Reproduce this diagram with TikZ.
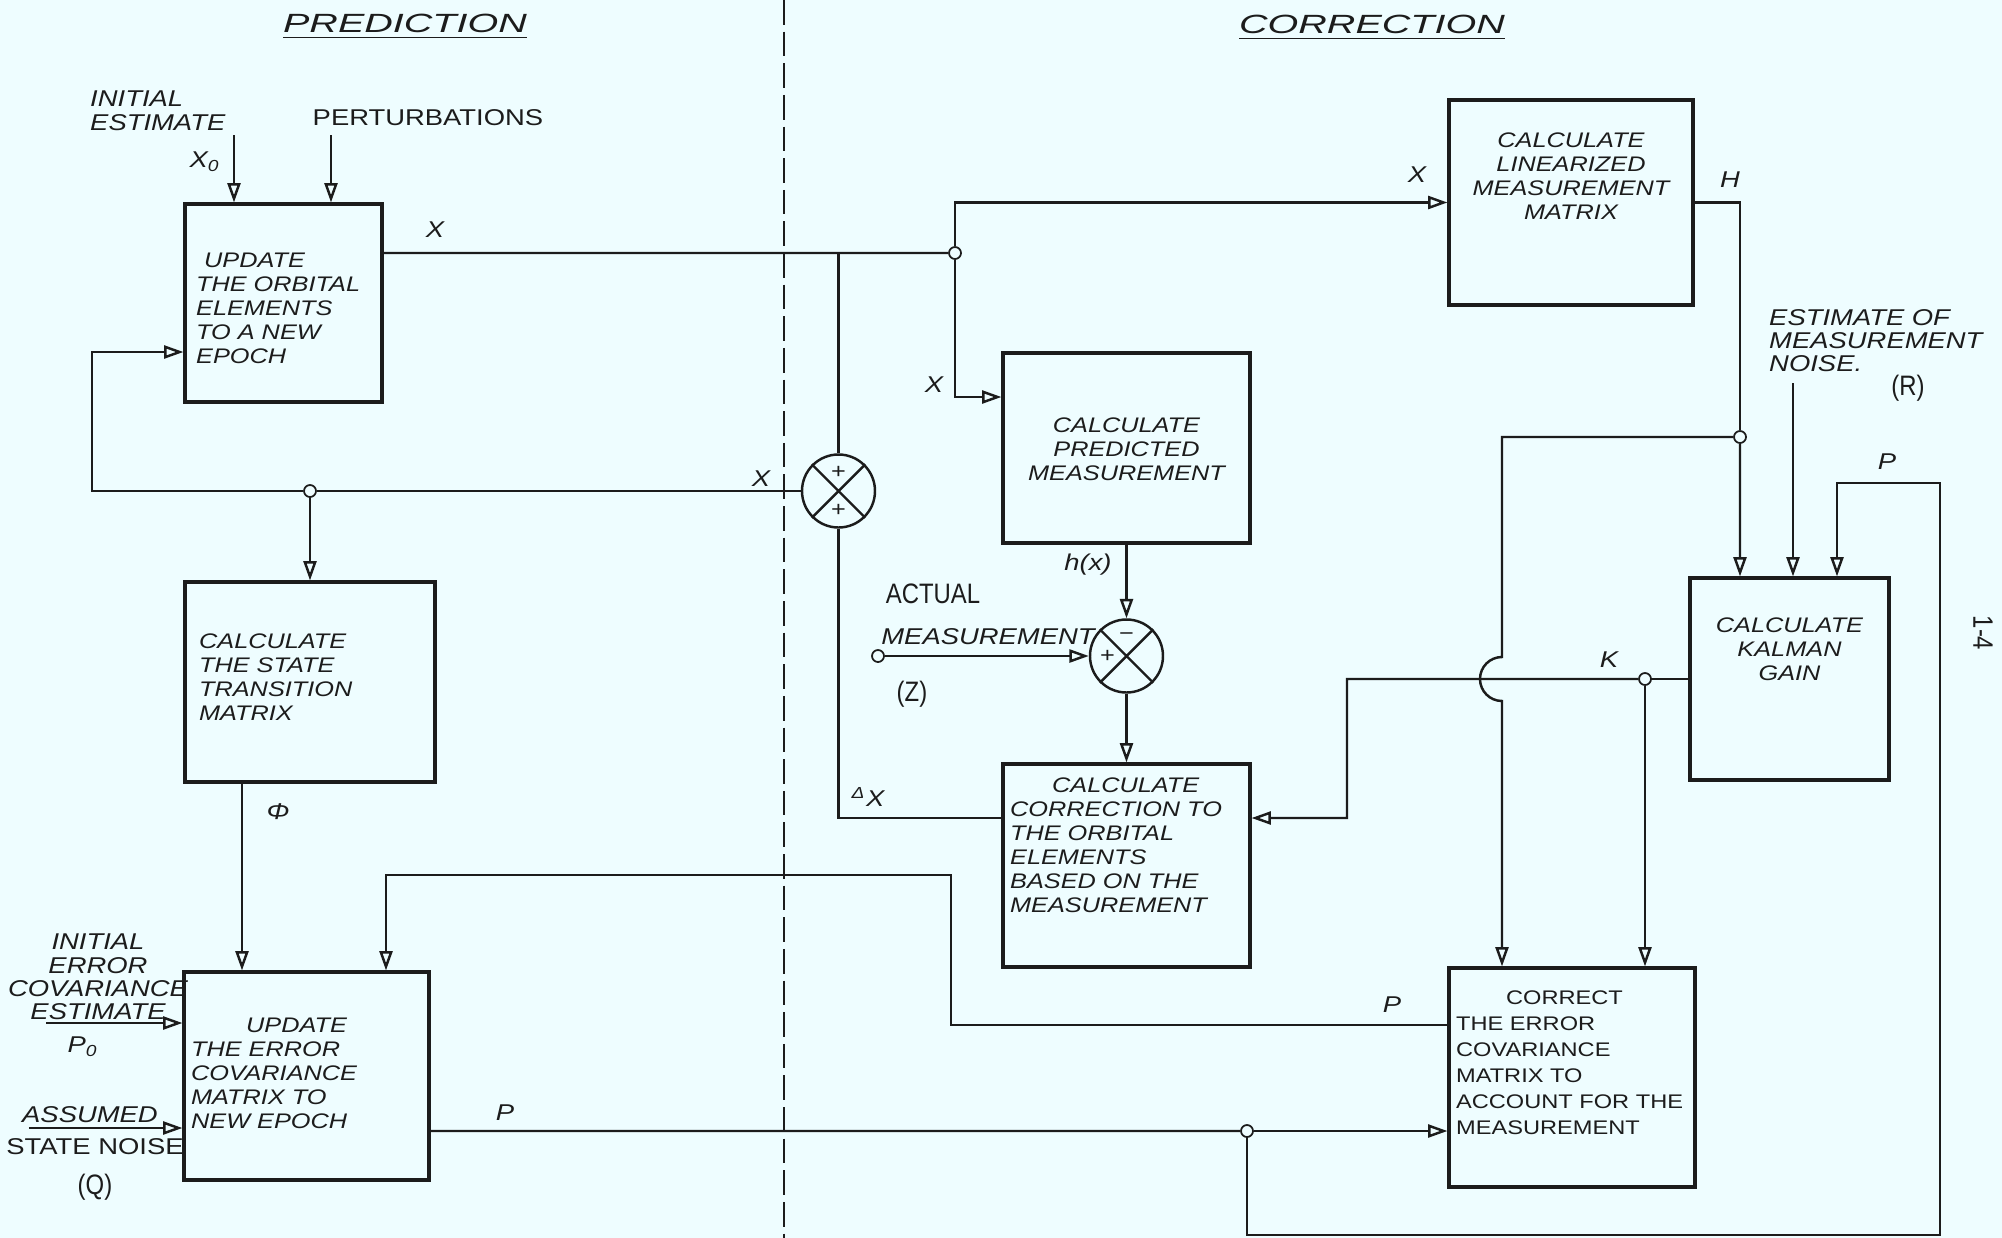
\documentclass[tikz,border=0pt]{standalone}
\usepackage{fontspec}
\usepackage{tikz}
\usetikzlibrary{arrows.meta, positioning}

\newfontfamily\handfont[FakeStretch=1.2]{Liberation Sans}
\newfontfamily\titlefont[FakeStretch=1.5]{Liberation Sans}
\newfontfamily\typefont[FakeStretch=0.85]{Liberation Sans}

\definecolor{paper}{RGB}{238,253,255}
\definecolor{ink}{RGB}{28,28,28}

\begin{document}
\begin{tikzpicture}[
    blk/.style={rectangle, draw=ink, line width=0.9pt, inner sep=0pt},
    blktext/.style={inner sep=0pt, align=left, text=ink, font=\handfont\itshape\fontsize{6}{6.8}\selectfont},
    blkcenter/.style={blktext, align=center},
    lbl/.style={inner sep=1pt, text=ink, font=\handfont\itshape\fontsize{6.5}{6.6}\selectfont},
    uplbl/.style={inner sep=1pt, text=ink, font=\handfont\fontsize{6.5}{7.2}\selectfont},
    typelbl/.style={inner sep=1pt, text=ink, font=\typefont\fontsize{8}{9}\selectfont},
    headline/.style={inner sep=1pt, text=ink, font=\titlefont\itshape\fontsize{7.5}{9}\selectfont},
    summer/.style={circle, draw=ink, line width=0.7pt, minimum size=7.3mm, inner sep=0pt},
    sign/.style={inner sep=0pt, text=ink, font=\handfont\fontsize{6}{6}\selectfont},
    dot/.style={circle, draw=ink, fill=paper, line width=0.5pt, minimum size=1.2mm, inner sep=0pt},
    wire/.style={draw=ink, line width=0.7pt},
    arrow/.style={wire, -{Triangle[open, length=5.5pt, width=3.7pt]}},
    divider/.style={draw=ink, line width=0.6pt, dash pattern=on 7pt off 2pt}
  ]
    % Paper and frame
    \fill[paper] (0,0) rectangle (20.02,-12.38);
    \useasboundingbox (0,0) rectangle (20.02,-12.38);

    % Headings and the dividing line
    \node[headline] (predtitle) at (4.05,-0.27) {\underline{PREDICTION}};
    \node[headline] (corrtitle) at (13.72,-0.28) {\underline{CORRECTION}};
    \coordinate (divtop) at (7.84,0);
    \coordinate (divbot) at (7.84,-12.38);
    \draw[divider] (divtop) -- (divbot);

    % Prediction blocks
    \node[blk, minimum width=1.97cm, minimum height=1.98cm] (upd) at (2.835,-3.03) {};
    \node[blktext, below right=0.50cm and 0.12cm of upd.north west] (updtxt) {\hspace*{0.8mm}UPDATE\\THE ORBITAL\\ELEMENTS\\TO A NEW\\EPOCH};
    \node[blk, minimum width=2.50cm, minimum height=2.00cm] (stm) at (3.10,-6.82) {};
    \node[blktext, below right=0.53cm and 0.15cm of stm.north west] (stmtxt) {CALCULATE\\THE STATE\\TRANSITION\\MATRIX};
    \node[blk, minimum width=2.45cm, minimum height=2.08cm] (cov) at (3.065,-10.76) {};
    \node[blktext, below right=0.47cm and 0.08cm of cov.north west] (covtxt) {\hspace*{5.5mm}UPDATE\\THE ERROR\\COVARIANCE\\MATRIX TO\\NEW EPOCH};

    % Correction blocks
    \node[blk, minimum width=2.44cm, minimum height=2.05cm] (lin) at (15.71,-2.025) {};
    \node[blkcenter, below=0.34cm of lin.north] (lintxt) {CALCULATE\\LINEARIZED\\MEASUREMENT\\MATRIX};
    \node[blk, minimum width=2.47cm, minimum height=1.90cm] (pred) at (11.265,-4.48) {};
    \node[blkcenter, below=0.66cm of pred.north] (predtxt) {CALCULATE\\PREDICTED\\MEASUREMENT};
    \node[blk, minimum width=2.47cm, minimum height=2.03cm] (corr) at (11.265,-8.655) {};
    \node[blktext, below right=0.15cm and 0.08cm of corr.north west] (corrtxt) {\hspace*{4.2mm}CALCULATE\\CORRECTION TO\\THE ORBITAL\\ELEMENTS\\BASED ON THE\\MEASUREMENT};
    \node[blk, minimum width=1.99cm, minimum height=2.02cm] (gain) at (17.895,-6.79) {};
    \node[blkcenter, below=0.41cm of gain.north] (gaintxt) {CALCULATE\\KALMAN\\GAIN};
    \node[blk, minimum width=2.46cm, minimum height=2.19cm] (upcov) at (15.72,-10.775) {};
    \node[blktext, font=\handfont\fontsize{5.6}{7.4}\selectfont, below right=0.24cm and 0.08cm of upcov.north west] (upcovtxt) {\hspace*{5mm}CORRECT\\THE ERROR\\COVARIANCE\\MATRIX TO\\ACCOUNT FOR THE\\MEASUREMENT};

    % Summing junctions
    \node[summer] (sumx) at (8.385,-4.91) {};
    \draw[wire] (sumx.north west) -- (sumx.south east) (sumx.north east) -- (sumx.south west);
    \node[sign] (sumxtop) at ([yshift=1.9mm]sumx.center) {+};
    \node[sign] (sumxbot) at ([yshift=-1.9mm]sumx.center) {+};
    \node[summer] (sumz) at (11.265,-6.56) {};
    \draw[wire] (sumz.north west) -- (sumz.south east) (sumz.north east) -- (sumz.south west);
    \node[sign] (sumztop) at ([yshift=1.9mm]sumz.center) {−};
    \node[sign] (sumzleft) at ([xshift=-1.9mm]sumz.center) {+};

    % Branch points
    \node[dot] (jx) at (9.55,-2.53) {};
    \node[dot] (jxl) at (3.10,-4.91) {};
    \node[dot] (jh) at (17.40,-4.37) {};
    \node[dot] (jk) at (16.45,-6.79) {};
    \node[dot] (jp) at (12.47,-11.31) {};
    \node[dot] (zin) at (8.78,-6.56) {};

    % Free ends and corners
    \coordinate (x0in) at (2.34,-1.35);
    \coordinate (pertin) at (3.31,-1.35);
    \coordinate (cornerL) at (0.92,-4.91);
    \coordinate (pback) at (9.51,-8.75);
    \coordinate (ploopR) at (19.40,-12.35);
    \coordinate (ploopT) at (19.40,-4.83);
    \coordinate (hoptop) at (15.02,-6.57);
    \coordinate (kturn) at (13.47,-8.18);
    \coordinate (rin) at (17.93,-3.83);
    \coordinate (p0in) at (0.46,-10.23);
    \coordinate (qin) at (0.29,-11.28);

    % Inputs to the orbit update
    \draw[arrow] (x0in) -- (x0in |- upd.north);
    \draw[arrow] (pertin) -- (pertin |- upd.north);
    \node[lbl, anchor=north west, align=left] (initest) at (0.86,-0.87) {INITIAL\\ESTIMATE};
    \node[lbl] (x0lbl) at (2.05,-1.62) {X\textsubscript{0}};
    \node[uplbl] (pertlbl) at (4.28,-1.18) {PERTURBATIONS};

    % State path
    \draw[wire] ([yshift=5mm]upd.east) -- (jx);
    \node[lbl] (xlbla) at (4.35,-2.30) {X};
    \draw[wire] (sumx.north |- jx) -- (sumx.north);
    \draw[arrow] (jx) |- (lin.west);
    \node[lbl] (xlblb) at (14.17,-1.75) {X};
    \draw[arrow] (jx) |- ([yshift=5.1mm]pred.west);
    \node[lbl] (xlblc) at (9.34,-3.85) {X};
    \draw[wire] (sumx.west) -- (jxl);
    \draw[arrow] (jxl) -- (cornerL) |- ([yshift=-4.9mm]upd.west);
    \node[lbl] (xlbld) at (7.61,-4.79) {X};
    \draw[arrow] (jxl) -- (stm.north);
    \draw[arrow] ([xshift=-6.8mm]stm.south) -- ([xshift=-6.8mm]stm.south |- cov.north);
    \node[lbl] (philbl) at (2.78,-8.12) {Φ};

    % Measurement residual
    \draw[arrow] (pred.south) -- (sumz.north);
    \node[lbl] (hxlbl) at (10.88,-5.65) {h(x)};
    \draw[arrow] (zin) -- (sumz.west);
    \node[typelbl] (actlbl) at (9.33,-5.94) {ACTUAL};
    \node[lbl] (measlbl) at (9.88,-6.37) {MEASUREMENT};
    \node[typelbl] (zlbl) at (9.12,-6.94) {(Z)};
    \draw[arrow] (sumz.south) -- (corr.north);
    \draw[wire] ([yshift=4.75mm]corr.west) -| (sumx.south);
    \node[lbl] (dxlbl) at (8.68,-7.97) {\textsuperscript{Δ}X};

    % Gain computation
    \draw[wire] (lin.east) -| (jh);
    \node[lbl] (hlbl) at (17.30,-1.80) {H};
    \draw[arrow] (jh) -- ([xshift=-4.95mm]gain.north);
    \draw[arrow] (rin) -- (rin |- gain.north);
    \node[lbl, anchor=north west, align=left] (rnoise) at (17.65,-3.05) {ESTIMATE OF\\MEASUREMENT\\NOISE.};
    \node[typelbl] (rlbl) at (19.08,-3.88) {(R)};
    \draw[arrow] (jh) -| (hoptop) arc[start angle=90, end angle=270, radius=0.22] -- ([xshift=-7mm]upcov.north);
    \draw[wire] (gain.west) -- (jk);
    \node[lbl] (klbl) at (16.09,-6.60) {K};
    \draw[arrow] (jk) -| (kturn) -- ([yshift=4.75mm]corr.east);
    \draw[arrow] (jk) -- (jk |- upcov.north);

    % Covariance path
    \draw[arrow] (p0in) -- (p0in -| cov.west);
    \node[lbl, anchor=north, align=center] (initcov) at (0.98,-9.30) {INITIAL\\ERROR\\COVARIANCE\\ESTIMATE};
    \node[lbl] (p0lbl) at (0.83,-10.47) {P\textsubscript{0}};
    \draw[arrow] (qin) -- (qin -| cov.west);
    \node[lbl] (asslbl) at (0.90,-11.15) {ASSUMED};
    \node[uplbl] (noiselbl) at (0.95,-11.47) {STATE NOISE};
    \node[typelbl] (qlbl) at (0.95,-11.87) {(Q)};
    \draw[wire] ([yshift=-5.5mm]cov.east) -- (jp);
    \draw[arrow] (jp) -- (jp -| upcov.west);
    \node[lbl] (plbla) at (5.05,-11.13) {P};
    \draw[arrow] ([yshift=5.25mm]upcov.west) -| (pback) -| ([xshift=7.95mm]cov.north);
    \node[lbl] (plblb) at (13.92,-10.05) {P};
    \draw[arrow] (jp) |- (ploopR) -- (ploopT) -| ([xshift=4.75mm]gain.north);
    \node[lbl] (plblc) at (18.87,-4.62) {P};

    % Page number
    \node[typelbl, rotate=-90] (pageno) at (19.83,-6.33) {1-4};

  \end{tikzpicture}
\end{document}
